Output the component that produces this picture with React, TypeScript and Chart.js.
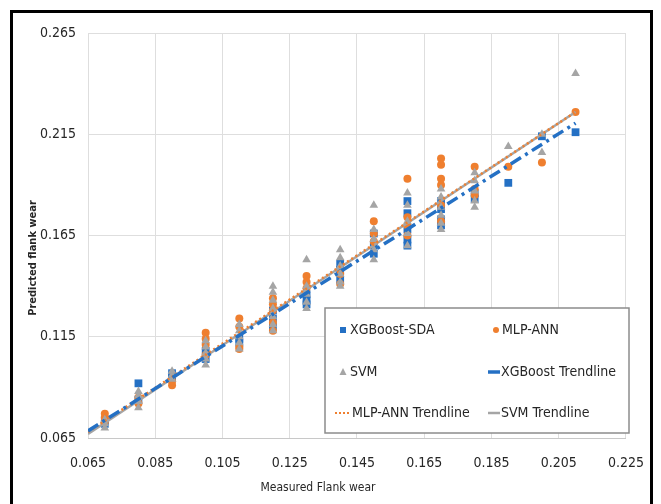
import React, { useEffect, useRef } from "react";
import { Chart, registerables } from "chart.js";

Chart.register(...registerables);

// ---- tick labels ----
const xTickValues = [0.065, 0.085, 0.105, 0.125, 0.145, 0.165, 0.185, 0.205, 0.225];
const yTickValues = [0.065, 0.115, 0.165, 0.215, 0.265];

// ---- series labels ----
const seriesLabels = ["XGBoost-SDA", "MLP-ANN", "SVM"];
const trendLabels = ["XGBoost Trendline", "MLP-ANN Trendline", "SVM Trendline"];
const xTitle = "Measured Flank wear";
const yTitle = "Predicted flank wear";

// ---- XGBoost-SDA points [measured, predicted] ----
const xgbPoints: [number, number][] = [
  [0.07, 0.072], [0.07, 0.074],
  [0.08, 0.092], [0.08, 0.084],
  [0.09, 0.097], [0.09, 0.095],
  [0.10, 0.104], [0.10, 0.108],
  [0.11, 0.112], [0.11, 0.114],
  [0.12, 0.120], [0.12, 0.124], [0.12, 0.128],
  [0.13, 0.131], [0.13, 0.133], [0.13, 0.136],
  [0.14, 0.143], [0.14, 0.148], [0.14, 0.151],
  [0.15, 0.156], [0.15, 0.160], [0.15, 0.166],
  [0.16, 0.160], [0.16, 0.163], [0.16, 0.168], [0.16, 0.176], [0.16, 0.182],
  [0.17, 0.170], [0.17, 0.173], [0.17, 0.178], [0.17, 0.182],
  [0.18, 0.183], [0.18, 0.186],
  [0.19, 0.191],
  [0.20, 0.214],
  [0.21, 0.216],
];

// ---- MLP-ANN points ----
const mlpPoints: [number, number][] = [
  [0.07, 0.077], [0.07, 0.075], [0.07, 0.073],
  [0.08, 0.082], [0.08, 0.085],
  [0.09, 0.091], [0.09, 0.093],
  [0.10, 0.117], [0.10, 0.114], [0.10, 0.111], [0.10, 0.106],
  [0.11, 0.124], [0.11, 0.120], [0.11, 0.110], [0.11, 0.109],
  [0.12, 0.134], [0.12, 0.131], [0.12, 0.128], [0.12, 0.122], [0.12, 0.118],
  [0.13, 0.145], [0.13, 0.142], [0.13, 0.139],
  [0.14, 0.141], [0.14, 0.146],
  [0.15, 0.172], [0.15, 0.166], [0.15, 0.162],
  [0.16, 0.193], [0.16, 0.174], [0.16, 0.170], [0.16, 0.165],
  [0.17, 0.203], [0.17, 0.200], [0.17, 0.193], [0.17, 0.190], [0.17, 0.180], [0.17, 0.172],
  [0.18, 0.199], [0.18, 0.188], [0.18, 0.185],
  [0.19, 0.199],
  [0.20, 0.201],
  [0.21, 0.226],
];

// ---- SVM points ----
const svmPoints: [number, number][] = [
  [0.07, 0.070], [0.07, 0.072], [0.07, 0.074],
  [0.08, 0.080], [0.08, 0.083], [0.08, 0.086], [0.08, 0.088],
  [0.09, 0.094], [0.09, 0.096], [0.09, 0.098],
  [0.10, 0.101], [0.10, 0.104], [0.10, 0.107], [0.10, 0.110], [0.10, 0.113],
  [0.11, 0.109], [0.11, 0.112], [0.11, 0.115], [0.11, 0.118], [0.11, 0.121],
  [0.12, 0.140], [0.12, 0.137], [0.12, 0.133], [0.12, 0.129], [0.12, 0.125], [0.12, 0.121], [0.12, 0.118],
  [0.13, 0.153], [0.13, 0.140], [0.13, 0.136], [0.13, 0.132], [0.13, 0.129],
  [0.14, 0.158], [0.14, 0.154], [0.14, 0.150], [0.14, 0.146], [0.14, 0.142], [0.14, 0.140],
  [0.15, 0.180], [0.15, 0.168], [0.15, 0.163], [0.15, 0.158], [0.15, 0.153],
  [0.16, 0.186], [0.16, 0.180], [0.16, 0.172], [0.16, 0.166], [0.16, 0.160],
  [0.17, 0.188], [0.17, 0.184], [0.17, 0.179], [0.17, 0.175], [0.17, 0.171], [0.17, 0.168],
  [0.18, 0.196], [0.18, 0.192], [0.18, 0.187], [0.18, 0.182], [0.18, 0.179],
  [0.19, 0.209],
  [0.20, 0.215], [0.20, 0.206],
  [0.21, 0.245],
];

// ---- trendlines (end points) ----
const xgbTrend: [number, number][] = [[0.065, 0.0685], [0.21, 0.2205]];
const mlpTrend: [number, number][] = [[0.065, 0.068], [0.21, 0.226]];
const svmTrend: [number, number][] = [[0.065, 0.067], [0.21, 0.226]];

const BLUE = "#2470c4";
const ORANGE = "#ef7f2f";
const GRAY = "#a5a5a5";
const FONT = "'Liberation Sans Narrow', 'Arial Narrow', 'DejaVu Sans Condensed', sans-serif";
const TEXT = "#262626";

const toXY = (arr: [number, number][]) => arr.map(([x, y]) => ({ x, y }));

const framePlugin = {
  id: "frameAndLegend",
  beforeDraw(chart: any) {
    const ctx = chart.ctx;
    ctx.save();
    ctx.fillStyle = "#ffffff";
    ctx.fillRect(0, 0, chart.width, chart.height);
    ctx.strokeStyle = "#000000";
    ctx.lineWidth = 3;
    ctx.strokeRect(11.5, 11.5, 640, 520);
    ctx.restore();
  },
  afterDraw(chart: any) {
    const ctx = chart.ctx;
    const a = chart.chartArea;
    ctx.save();
    // axis titles
    ctx.fillStyle = TEXT;
    ctx.textAlign = "center";
    ctx.textBaseline = "middle";
    ctx.font = `12px ${FONT}`;
    ctx.fillText(xTitle, 318, 488);
    ctx.save();
    ctx.translate(33, 258);
    ctx.rotate(-Math.PI / 2);
    ctx.font = `bold 11px ${FONT}`;
    ctx.fillText(yTitle, 0, 0);
    ctx.restore();

    // legend box
    const lx = a.left + 237;
    const ly = a.top + 275;
    const lw = 304;
    const lh = 125;
    ctx.fillStyle = "#ffffff";
    ctx.fillRect(lx, ly, lw, lh);
    ctx.strokeStyle = "#8c8c8c";
    ctx.lineWidth = 1.5;
    ctx.strokeRect(lx, ly, lw, lh);

    const col1 = lx + 18;
    const col2 = lx + 170;
    const rows = [ly + 22, ly + 64, ly + 105];
    ctx.font = `14px ${FONT}`;
    ctx.textAlign = "left";
    ctx.textBaseline = "middle";

    const text = (s: string, x: number, y: number) => {
      ctx.fillStyle = TEXT;
      ctx.fillText(s, x, y);
    };
    // XGBoost-SDA square
    ctx.fillStyle = BLUE;
    ctx.fillRect(col1 - 3, rows[0] - 3, 6, 6);
    text(seriesLabels[0], col1 + 7, rows[0]);
    // MLP-ANN circle
    ctx.fillStyle = ORANGE;
    ctx.beginPath();
    ctx.arc(col2 + 1, rows[0], 3, 0, Math.PI * 2);
    ctx.fill();
    text(seriesLabels[1], col2 + 7, rows[0]);
    // SVM triangle
    ctx.fillStyle = GRAY;
    ctx.beginPath();
    ctx.moveTo(col1, rows[1] - 4);
    ctx.lineTo(col1 + 3.5, rows[1] + 3);
    ctx.lineTo(col1 - 3.5, rows[1] + 3);
    ctx.closePath();
    ctx.fill();
    text(seriesLabels[2], col1 + 7, rows[1]);
    // XGBoost trendline
    ctx.strokeStyle = BLUE;
    ctx.lineWidth = 3.5;
    ctx.setLineDash([]);
    ctx.beginPath();
    ctx.moveTo(col2 - 7, rows[1]);
    ctx.lineTo(col2 + 5, rows[1]);
    ctx.stroke();
    text(trendLabels[0], col2 + 6, rows[1]);
    // MLP-ANN trendline
    ctx.strokeStyle = ORANGE;
    ctx.lineWidth = 2;
    ctx.setLineDash([2, 2]);
    ctx.beginPath();
    ctx.moveTo(col1 - 8, rows[2]);
    ctx.lineTo(col1 + 8, rows[2]);
    ctx.stroke();
    ctx.setLineDash([]);
    text(trendLabels[1], col1 + 9, rows[2]);
    // SVM trendline
    ctx.strokeStyle = GRAY;
    ctx.lineWidth = 2.5;
    ctx.beginPath();
    ctx.moveTo(col2 - 7, rows[2]);
    ctx.lineTo(col2 + 5, rows[2]);
    ctx.stroke();
    text(trendLabels[2], col2 + 6, rows[2]);
    ctx.restore();
  },
};

export default function App() {
  const ref = useRef<HTMLCanvasElement | null>(null);

  useEffect(() => {
    if (!ref.current) return;
    const tickFont = { family: FONT, size: 14 };
    const chart = new Chart(ref.current, {
      type: "scatter",
      data: {
        datasets: [
          {
            label: trendLabels[0],
            data: toXY(xgbTrend),
            showLine: true,
            borderColor: BLUE,
            borderWidth: 3.5,
            borderDash: [12, 5, 3, 5],
            pointRadius: 0,
            order: 0,
          } as any,
          {
            label: trendLabels[1],
            data: toXY(mlpTrend),
            showLine: true,
            borderColor: ORANGE,
            borderWidth: 2.5,
            borderDash: [2, 3],
            pointRadius: 0,
            order: 1,
          },
          {
            label: trendLabels[2],
            data: toXY(svmTrend),
            showLine: true,
            borderColor: GRAY,
            borderWidth: 2.5,
            pointRadius: 0,
            order: 2,
          },
          {
            label: seriesLabels[2],
            data: toXY(svmPoints),
            pointStyle: "triangle",
            pointRadius: 5,
            backgroundColor: GRAY,
            borderColor: GRAY,
            borderWidth: 0,
            order: 3,
          },
          {
            label: seriesLabels[1],
            data: toXY(mlpPoints),
            pointStyle: "circle",
            pointRadius: 4,
            backgroundColor: ORANGE,
            borderColor: ORANGE,
            borderWidth: 0,
            order: 4,
          },
          {
            label: seriesLabels[0],
            data: toXY(xgbPoints),
            pointStyle: "rect",
            pointRadius: 5.5,
            backgroundColor: BLUE,
            borderColor: BLUE,
            borderWidth: 0,
            order: 5,
          },
        ],
      },
      options: {
        responsive: false,
        animation: false,
        layout: { padding: { left: 0, right: 33, top: 33, bottom: 0 } },
        plugins: { legend: { display: false }, tooltip: { enabled: false } },
        scales: {
          x: {
            type: "linear",
            min: 0.065,
            max: 0.225,
            afterBuildTicks: (s: any) => {
              s.ticks = xTickValues.map((v) => ({ value: v }));
            },
            afterFit: (s: any) => {
              s.height = 66;
            },
            grid: { color: "#dedede", drawTicks: false },
            border: { color: "#c8c8c8" },
            ticks: {
              padding: 17,
              font: tickFont,
              color: TEXT,
              callback: (v: any) => Number(v).toFixed(3),
            },
          },
          y: {
            type: "linear",
            min: 0.065,
            max: 0.265,
            afterBuildTicks: (s: any) => {
              s.ticks = yTickValues.map((v) => ({ value: v }));
            },
            afterFit: (s: any) => {
              s.width = 88;
            },
            grid: { color: "#dedede", drawTicks: false },
            border: { display: false },
            ticks: {
              padding: 12,
              font: tickFont,
              color: TEXT,
              callback: (v: any) => Number(v).toFixed(3),
            },
          },
        },
      },
      plugins: [framePlugin],
    });
    return () => chart.destroy();
  }, []);

  return (
    <div style={{ position: "fixed", left: 0, top: 0, width: 661, height: 504, background: "#fff" }}>
      <canvas ref={ref} width={661} height={504} style={{ display: "block" }} />
    </div>
  );
}
